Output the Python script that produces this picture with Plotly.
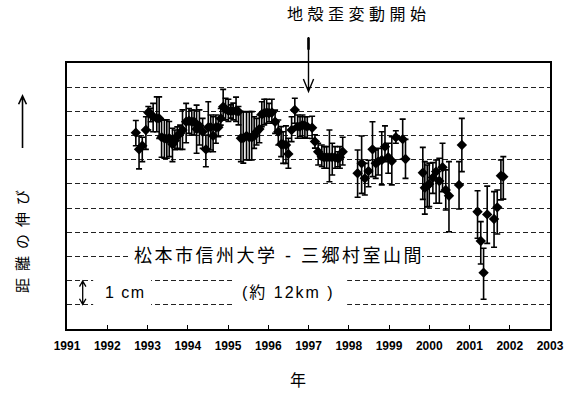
import plotly.graph_objects as go

# --- data (decimal year, elongation in cm, error bars in cm) ---
years = [
    1992.71, 1992.79, 1992.87, 1992.96, 1993.02, 1993.08, 1993.14, 1993.23, 1993.29, 1993.35,
    1993.42, 1993.48, 1993.54, 1993.62, 1993.68, 1993.74, 1993.81, 1993.87, 1993.96, 1994.03,
    1994.10, 1994.16, 1994.22, 1994.29, 1994.37, 1994.45, 1994.51, 1994.57, 1994.63, 1994.70,
    1994.76, 1994.82, 1994.88, 1994.94, 1995.01, 1995.07, 1995.13, 1995.20, 1995.26, 1995.32,
    1995.38, 1995.46, 1995.53, 1995.59, 1995.65, 1995.71, 1995.78, 1995.84, 1995.90, 1995.96,
    1996.02, 1996.09, 1996.17, 1996.25, 1996.32, 1996.37, 1996.44, 1996.50, 1996.58, 1996.66,
    1996.73, 1996.79, 1996.85, 1996.91, 1996.97, 1997.09, 1997.16, 1997.24, 1997.33, 1997.39,
    1997.45, 1997.52, 1997.59, 1997.66, 1997.73, 1997.78, 1997.85, 1998.22, 1998.32, 1998.40,
    1998.49, 1998.59, 1998.67, 1998.73, 1998.82, 1998.90, 1998.98, 1999.07, 1999.17, 1999.34,
    1999.41, 1999.84, 1999.89, 1999.95, 2000.00, 2000.09, 2000.17, 2000.25, 2000.33, 2000.41,
    2000.49, 2000.74, 2000.81, 2001.20, 2001.28, 2001.35, 2001.44, 2001.61, 2001.69, 2001.78,
    2001.84,
]
values = [
    8.12, 7.43, 7.58, 8.23, 8.95, 8.89, 8.78, 8.71, 8.71, 7.93,
    7.89, 7.85, 7.89, 7.64, 7.79, 7.98, 8.09, 8.23, 8.57, 8.61,
    8.57, 8.57, 8.27, 8.40, 8.16, 7.43, 8.34, 8.34, 7.99, 8.34,
    8.34, 8.71, 9.19, 9.09, 9.02, 9.02, 9.02, 9.02, 8.99, 7.89,
    7.89, 7.98, 7.93, 7.93, 7.98, 8.16, 8.27, 8.88, 8.92, 8.95,
    8.92, 8.95, 8.57, 8.16, 7.64, 7.64, 7.61, 7.24, 8.23, 9.06,
    8.37, 8.37, 8.44, 8.40, 8.37, 8.32, 7.75, 7.33, 7.13, 7.10,
    7.10, 7.10, 7.10, 7.10, 7.06, 7.10, 7.33, 6.44, 6.85, 6.23,
    6.53, 7.43, 6.85, 6.92, 6.99, 7.54, 7.10, 6.95, 7.93, 7.85,
    7.03, 6.46, 5.84, 5.91, 6.00, 6.26, 6.51, 6.12, 6.69, 5.75,
    5.51, 5.96, 7.61, 4.85, 3.64, 2.33, 4.74, 4.55, 5.03, 6.34,
    6.30,
]
err_up = [
    0.50, 0.55, 0.35, 0.55, 0.25, 0.24, 0.55, 0.89, 0.89, 0.72,
    0.76, 0.80, 0.69, 0.66, 0.44, 0.38, 0.34, 0.83, 0.76, 0.51,
    0.48, 0.48, 0.99, 0.66, 0.55, 0.59, 1.06, 0.51, 0.79, 0.51,
    0.37, 0.41, 0.72, 0.45, 0.48, 0.25, 0.32, 0.57, 0.21, 1.10,
    1.10, 1.00, 1.06, 1.06, 0.80, 0.55, 0.58, 0.52, 0.58, 0.55,
    0.41, 0.55, 0.48, 0.48, 0.73, 0.52, 0.79, 0.65, 0.55, 0.48,
    0.48, 0.41, 0.41, 0.38, 0.41, 0.48, 0.28, 0.35, 0.48, 0.44,
    0.44, 1.13, 0.58, 0.44, 0.27, 0.44, 0.60, 0.96, 1.13, 0.62,
    0.45, 1.14, 0.55, 0.55, 1.17, 0.86, 0.58, 1.00, 0.27, 0.83,
    0.81, 1.05, 1.08, 0.87, 0.86, 0.62, 0.48, 0.94, 0.99, 0.83,
    1.41, 0.96, 1.10, 0.87, 0.80, 1.01, 1.17, 1.13, 0.72, 0.65,
    0.83,
]
err_dn = [
    0.54, 0.81, 0.66, 0.80, 0.72, 0.32, 0.62, 0.55, 0.83, 0.83,
    0.83, 0.79, 0.76, 0.72, 0.38, 0.51, 0.66, 0.80, 0.87, 0.52,
    0.55, 0.55, 1.00, 0.79, 0.69, 0.72, 1.01, 0.94, 0.66, 0.66,
    0.39, 0.28, 0.55, 0.44, 0.44, 0.30, 0.37, 0.44, 0.55, 0.97,
    1.03, 0.99, 0.94, 0.94, 0.51, 0.55, 0.57, 0.51, 0.48, 0.44,
    0.35, 0.44, 0.48, 0.55, 0.51, 0.79, 0.76, 0.59, 0.48, 0.55,
    0.48, 0.41, 0.55, 0.47, 0.48, 0.44, 0.27, 0.55, 0.41, 0.45,
    0.45, 1.01, 0.73, 0.45, 0.35, 0.45, 0.55, 0.99, 1.24, 0.69,
    0.65, 1.13, 0.62, 0.55, 1.03, 0.62, 0.66, 0.99, 0.25, 0.83,
    0.80, 1.10, 1.09, 0.86, 0.94, 0.65, 1.31, 0.92, 1.01, 0.83,
    1.49, 1.00, 1.10, 1.10, 0.95, 1.10, 1.20, 1.17, 1.10, 1.00,
    0.93,
]
tick_years = list(range(1991, 2004))
tick_labels = [str(y) for y in tick_years]

event_year = 1997
title_text = "地殻歪変動開始"
ylabel_text = "距離の伸び"
xlabel_text = "年"
route_text = "松本市信州大学 - 三郷村室山間"
scale_text = "1 cm"
dist_text = "(約 12km )"

CJK = "Liberation Sans, Arial, Noto Sans CJK JP"

fig = go.Figure()
fig.add_trace(go.Scatter(
    x=years, y=values, mode="markers",
    marker=dict(symbol="diamond", size=8, color="black"),
    error_y=dict(type="data", symmetric=False, array=err_up, arrayminus=err_dn,
                 color="black", thickness=1.6, width=3),
    showlegend=False, cliponaxis=False,
))

def ls(text, px):
    return f'<span style="letter-spacing:{px}px">{text}</span>'

shapes = [
    # white masks behind the in-plot texts
    dict(type="rect", xref="x", yref="y", x0=1992.52, x1=1999.82, y0=2.62, y1=3.38,
         fillcolor="white", line=dict(width=0), layer="above"),
    dict(type="rect", xref="x", yref="y", x0=1991.65, x1=1993.09, y0=0.7, y1=2.3,
         fillcolor="white", line=dict(width=0), layer="above"),
    dict(type="rect", xref="x", yref="y", x0=1995.10, x1=1997.96, y0=0.7, y1=2.3,
         fillcolor="white", line=dict(width=0), layer="above"),
    # 1 cm double arrow
    dict(type="path", xref="x", yref="y",
         path="M 1991.39,1.02 L 1991.39,1.98 M 1991.31,1.75 L 1991.39,1.98 L 1991.47,1.75 "
              "M 1991.31,1.25 L 1991.39,1.02 L 1991.47,1.25",
         line=dict(color="black", width=1.3), layer="above"),
    # event arrow (paper coords, x=0.5 is 1997)
    dict(type="path", xref="paper", yref="paper",
         path="M 0.5,1.0977 L 0.5,0.893 M 0.4894,0.940 L 0.5,0.893 L 0.5106,0.940",
         line=dict(color="black", width=1.4), layer="above"),
    dict(type="line", xref="paper", yref="paper", x0=0.5, x1=0.5, y0=1.05, y1=1.095,
         line=dict(color="black", width=2.6)),
    # y-label arrow
    dict(type="path", xref="paper", yref="paper",
         path="M -0.0921,0.680 L -0.0921,0.876 M -0.1002,0.845 L -0.0921,0.876 L -0.0840,0.845",
         line=dict(color="black", width=1.6)),
]

annotations = [
    dict(text=ls(title_text, 4.5), xref="paper", yref="paper", x=0.4513, y=1.1805,
         xanchor="left", yanchor="middle", showarrow=False,
         font=dict(family=CJK, size=16, color="black")),
    dict(text=ls(ylabel_text, 7), xref="paper", yref="paper", x=-0.0922, y=0.344,
         xanchor="center", yanchor="middle", textangle=-90, showarrow=False,
         font=dict(family=CJK, size=15, color="black")),
    dict(text=xlabel_text, xref="paper", yref="paper", x=0.478, y=-0.195,
         xanchor="center", yanchor="middle", showarrow=False,
         font=dict(family=CJK, size=16, color="black")),
    dict(text=ls(route_text, 2.5), xref="x", yref="y", x=1992.61, y=3.0,
         xanchor="left", yanchor="middle", showarrow=False,
         font=dict(family=CJK, size=18, color="black")),
    dict(text=ls(scale_text, 1.5), xref="x", yref="y", x=1991.89, y=1.5,
         xanchor="left", yanchor="middle", showarrow=False,
         font=dict(family=CJK, size=16, color="black")),
    dict(text=ls(dist_text, 2), xref="x", yref="y", x=1995.30, y=1.5,
         xanchor="left", yanchor="middle", showarrow=False,
         font=dict(family=CJK, size=16, color="black")),
]

fig.update_layout(
    width=564, height=394,
    margin=dict(l=67, r=14, t=63, b=65, autoexpand=False),
    paper_bgcolor="white", plot_bgcolor="white",
    shapes=shapes, annotations=annotations,
    xaxis=dict(range=[1991, 2003], tickvals=tick_years, ticktext=tick_labels,
               ticks="inside", ticklen=4, tickcolor="black", tickwidth=1,
               showgrid=False, zeroline=False, automargin=False,
               showline=True, linecolor="black", linewidth=1.5, mirror=True,
               tickfont=dict(family="Liberation Sans Narrow, Arial Narrow, Liberation Sans",
                             size=12, color="black", weight="bold"),
               ticklabelstandoff=5),
    yaxis=dict(range=[0, 11], dtick=1, tick0=0, showticklabels=False,
               showgrid=True, gridcolor="#222222", gridwidth=1.1, griddash="5px,3px",
               zeroline=False, automargin=False,
               showline=True, linecolor="black", linewidth=1.5, mirror=True),
)

fig.write_html("out.html", config={"displayModeBar": False},
               post_script="document.body.style.margin='0';document.body.style.padding='0';")
